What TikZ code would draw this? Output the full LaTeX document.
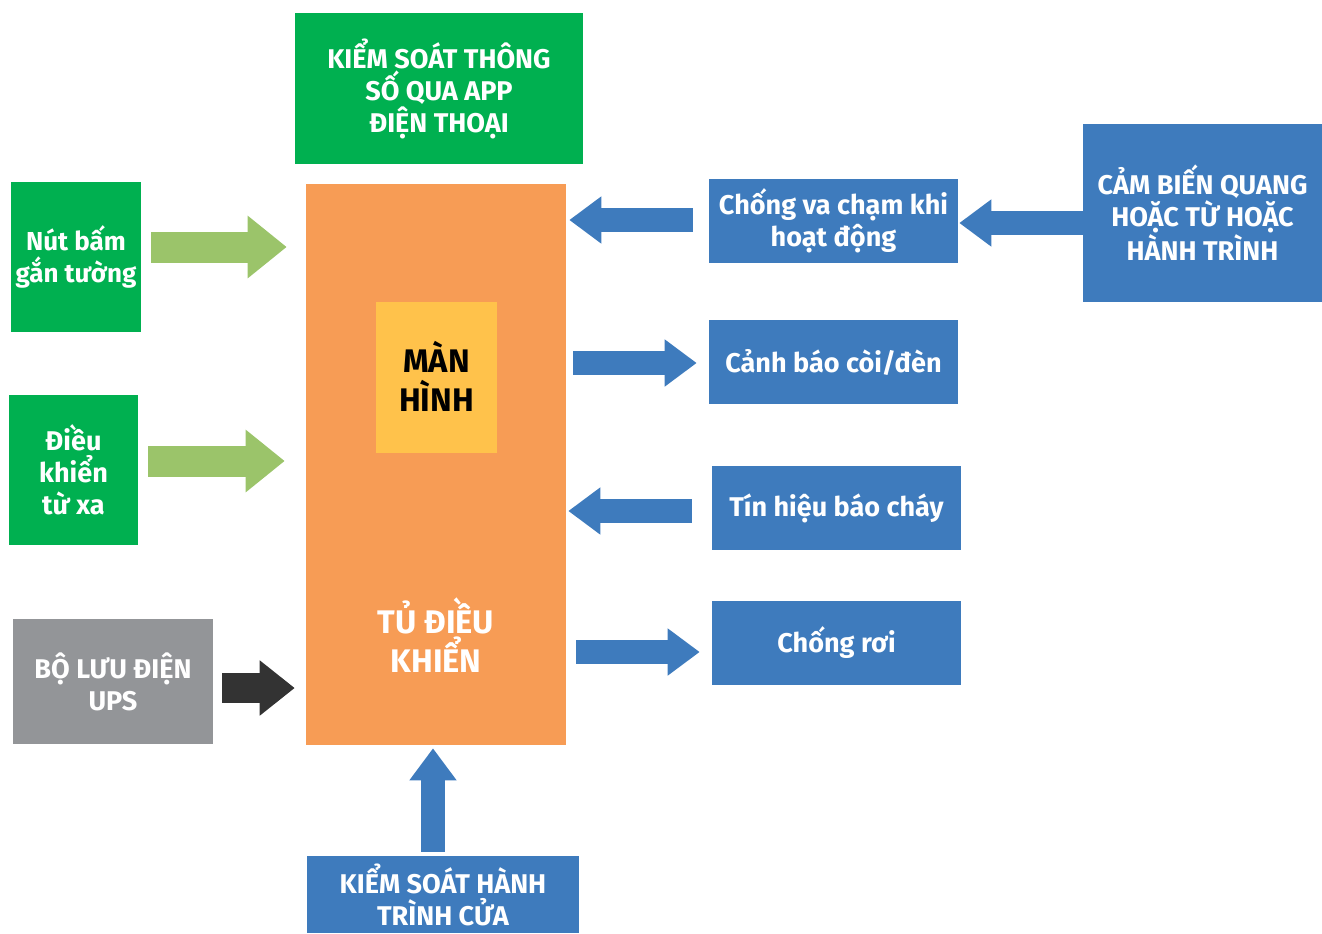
\documentclass[tikz,border=0pt]{standalone}
\usepackage{fontspec}
\setmainfont{Fira Sans}
\usetikzlibrary{arrows.meta,calc}
\definecolor{boxgreen}{RGB}{0,176,80}
\definecolor{arrgreen}{RGB}{155,196,106}
\definecolor{boxorange}{RGB}{247,156,85}
\definecolor{boxyellow}{RGB}{255,194,75}
\definecolor{boxblue}{RGB}{62,123,189}
\definecolor{boxgray}{RGB}{147,149,152}
\definecolor{arrdark}{RGB}{51,51,51}
\begin{document}
\begin{tikzpicture}[x=0.75pt,y=0.75pt,yscale=-1,xscale=1,
	box/.style={rectangle,inner sep=0pt,align=center,text=white,font=\bfseries\fontsize{20.3}{24}\selectfont},
	greenbox/.style={box,fill=boxgreen},
	bluebox/.style={box,fill=boxblue,minimum width=186.75pt,minimum height=63pt},
	greenarrow/.style={draw=arrgreen,line width=23.25pt,-{Triangle[length=29.25pt,width=45pt]}},
	darkarrow/.style={draw=arrdark,line width=22.5pt,-{Triangle[length=26.25pt,width=39.75pt]}},
	bluearrow/.style={draw=boxblue,line width=18pt,-{Triangle[length=24pt,width=33.75pt]}}]
	\useasboundingbox (0,0) rectangle (1322,933);
	\node[greenbox,minimum width=216pt,minimum height=113.25pt] (app) at (439,88.5) {KIỂM SOÁT THÔNG\\SỐ QUA APP\\ĐIỆN THOẠI};
	\node[box,fill=boxorange,minimum width=195pt,minimum height=420.75pt] (tu) at (436,464.5) {};
	\node[box,fill=boxyellow,text=black,minimum width=90.75pt,minimum height=113.25pt,font=\bfseries\fontsize{24.5}{29}\selectfont] (manhinh) at (436.5,377.5) {\raisebox{2pt}{MÀN}\\\raisebox{2pt}{HÌNH}};
	\node[box,font=\bfseries\fontsize{24.5}{29}\selectfont] (tutext) at (436,635) {TỦ ĐIỀU\\KHIỂN};
	\node[greenbox,minimum width=97.5pt,minimum height=112.5pt,font=\bfseries\fontsize{19.5}{24}\selectfont] (nut) at (76,257) {Nút bấm\\gắn tường};
	\node[greenbox,minimum width=96.75pt,minimum height=112.5pt] (dieu) at (73.5,470) {Điều\\khiển\\từ xa};
	\node[box,fill=boxgray,minimum width=150pt,minimum height=93.75pt] (ups) at (113,681.5) {BỘ LƯU ĐIỆN\\UPS};
	\node[bluebox] (va) at (833.5,221) {Chống va chạm khi\\hoạt động};
	\node[box,fill=boxblue,minimum width=179.25pt,minimum height=133.5pt] (cam) at (1202.5,213) {CẢM BIẾN QUANG\\HOẶC TỪ HOẶC\\HÀNH TRÌNH};
	\node[bluebox] (canh) at (833.5,362) {Cảnh báo còi/đèn};
	\node[bluebox] (tin) at (836.5,508) {Tín hiệu báo cháy};
	\node[bluebox] (roi) at (836.5,643) {Chống rơi};
	\node[box,fill=boxblue,minimum width=204pt,minimum height=57.75pt] (cua) at (443,894.5) {KIỂM SOÁT HÀNH\\TRÌNH CỬA};
	\draw[greenarrow] ($(nut.east)+(10,-10)$) -- ($(nut.east -| tu.west)+(-19,-10)$);
	\draw[greenarrow] ($(dieu.east)+(10,-9)$) -- ($(dieu.east -| tu.west)+(-21,-9)$);
	\draw[darkarrow] ($(ups.east)+(9,6.5)$) -- ($(ups.east -| tu.west)+(-11,6.5)$);
	\draw[bluearrow] ($(va.west)+(-16,-1)$) -- ($(va.west -| tu.east)+(3,-1)$);
	\draw[bluearrow] ($(cam.west)+(0,10)$) -- ($(cam.west -| va.east)+(1,10)$);
	\draw[bluearrow] ($(canh.west -| tu.east)+(7,1)$) -- ($(canh.west)+(-12,1)$);
	\draw[bluearrow] ($(tin.west)+(-20,3)$) -- ($(tin.west -| tu.east)+(2,3)$);
	\draw[bluearrow] ($(roi.west -| tu.east)+(10,9)$) -- ($(roi.west)+(-12,9)$);
	\draw[bluearrow] ($(cua.north)+(-10,-4)$) -- ($(cua.north |- tu.south)+(-10,3)$);
\end{tikzpicture}
\end{document}
